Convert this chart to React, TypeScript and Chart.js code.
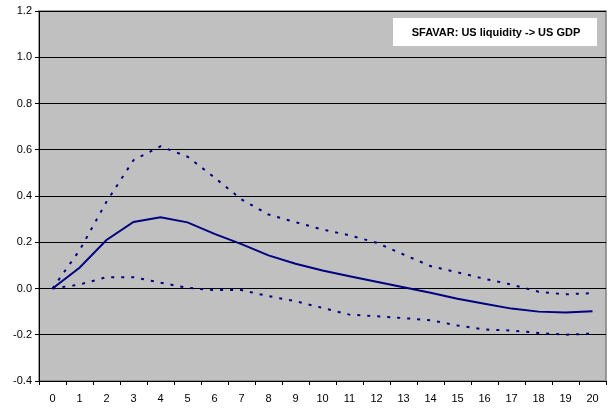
import React, { useEffect, useRef } from "react";
import { Chart, registerables } from "chart.js";

Chart.register(...registerables);

const horizons = ["0","1","2","3","4","5","6","7","8","9","10","11","12","13","14","15","16","17","18","19","20"];
const median = [0, 0.09, 0.21, 0.288, 0.308, 0.286, 0.236, 0.192, 0.143, 0.107, 0.078, 0.053, 0.029, 0.005, -0.018, -0.044, -0.066, -0.087, -0.1, -0.104, -0.098];
const upper = [0, 0.165, 0.375, 0.555, 0.615, 0.57, 0.48, 0.385, 0.32, 0.287, 0.255, 0.23, 0.198, 0.147, 0.097, 0.07, 0.042, 0.017, -0.014, -0.025, -0.02];
const lower = [0, 0.017, 0.049, 0.049, 0.025, 0.003, -0.007, -0.007, -0.033, -0.055, -0.084, -0.113, -0.12, -0.128, -0.137, -0.16, -0.177, -0.182, -0.192, -0.2, -0.195];
const legendText = "SFAVAR: US liquidity -> US GDP";

const FONT = "'Liberation Sans', Arial, sans-serif";
const NAVY = "#000080";

const plotBg = {
  id: "plotBg",
  beforeDraw(chart: any) {
    const { ctx, chartArea: a } = chart;
    ctx.save();
    ctx.fillStyle = "#C0C0C0";
    ctx.fillRect(a.left, a.top, a.right - a.left, a.bottom - a.top);
    ctx.strokeStyle = "#808080";
    ctx.lineWidth = 1.5;
    ctx.strokeRect(a.left, a.top, a.right - a.left, a.bottom - a.top);
    ctx.restore();
  },
  afterDraw(chart: any) {
    const { ctx } = chart;
    ctx.save();
    const x = 393, y = 18, w = 204, h = 28;
    ctx.fillStyle = "#FFFFFF";
    ctx.fillRect(x, y, w, h);
    ctx.fillStyle = "#000000";
    ctx.font = `bold 11px ${FONT}`;
    ctx.textAlign = "center";
    ctx.textBaseline = "middle";
    ctx.fillText(legendText, x + w / 2 + 1, y + h / 2 + 0.5);
    ctx.restore();
  },
};

export default function App() {
  const ref = useRef<HTMLCanvasElement | null>(null);
  useEffect(() => {
    if (!ref.current) return;
    const chart = new Chart(ref.current, {
      type: "line",
      data: {
        labels: horizons,
        datasets: [
          { label: "median", data: median, borderColor: NAVY, borderWidth: 2, pointRadius: 0, tension: 0, fill: false },
          { label: "upper", data: upper, borderColor: NAVY, borderWidth: 2, borderDash: [3, 7], pointRadius: 0, tension: 0, fill: false },
          { label: "lower", data: lower, borderColor: NAVY, borderWidth: 2, borderDash: [3, 7], pointRadius: 0, tension: 0, fill: false },
        ],
      },
      options: {
        animation: false,
        responsive: false,
        devicePixelRatio: 1,
        layout: { padding: { top: 11, right: 4, left: 0, bottom: 0 } },
        plugins: { legend: { display: false }, tooltip: { enabled: false }, title: { display: false } },
        scales: {
          x: {
            type: "category",
            offset: true,
            grid: { offset: true, drawOnChartArea: false, drawTicks: true, tickLength: 4, color: "#000000" },
            border: { color: "#000000", width: 1 },
            ticks: { color: "#000000", font: { family: FONT, size: 11 }, padding: 7, maxRotation: 0, autoSkip: false },
            afterFit: (s: any) => { s.height = 27; },
          },
          y: {
            min: -0.4,
            max: 1.2,
            grid: { color: "#000000", lineWidth: 1, drawTicks: true, tickLength: 4 },
            border: { color: "#000000", width: 1 },
            ticks: {
              stepSize: 0.2,
              color: "#000000",
              font: { family: FONT, size: 11 },
              padding: 3,
              callback: (v: any) => Number(v).toFixed(1),
            },
            afterFit: (s: any) => { s.width = 39; },
          },
        },
      },
      plugins: [plotBg],
    });
    return () => chart.destroy();
  }, []);
  return (
    <div style={{ position: "fixed", left: 0, top: 0, width: 610, height: 408, background: "#FFFFFF" }}>
      <canvas ref={ref} width={610} height={408} style={{ width: 610, height: 408, display: "block" }} />
    </div>
  );
}
